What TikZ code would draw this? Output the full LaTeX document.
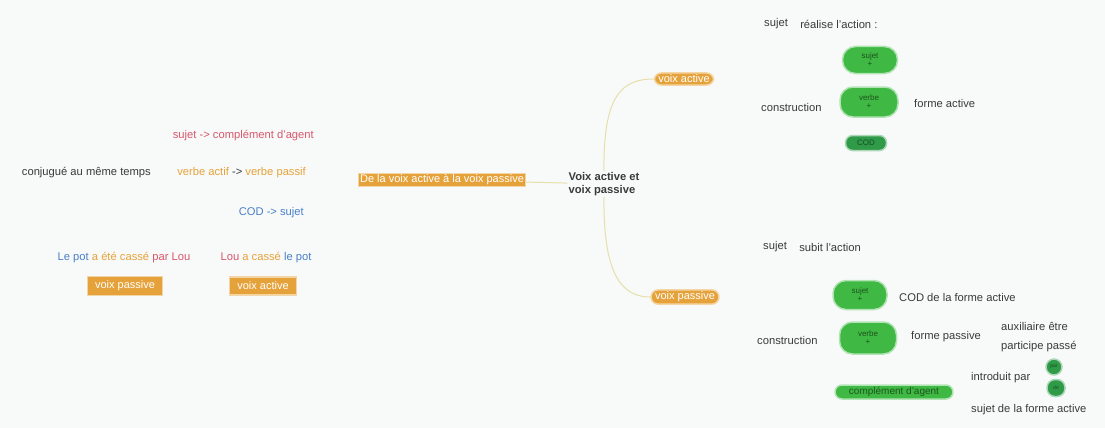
\documentclass[tikz,border=0pt]{standalone}
\usepackage{fontspec}
\setmainfont{Liberation Sans}
\usetikzlibrary{positioning}

\definecolor{vorange}{HTML}{E6A23A}
\definecolor{vgreen}{HTML}{3FB943}
\definecolor{vdgreen}{HTML}{2F9A48}
\definecolor{vred}{HTML}{D8566A}
\definecolor{vblue}{HTML}{4A7FC6}
\definecolor{vtext}{HTML}{3A3A3A}
\definecolor{vline}{HTML}{E6DFA8}
\definecolor{vback}{HTML}{F8FAFA}

\tikzset{
 txt/.style   ={text=vtext,font=\fontsize{11.2}{13}\selectfont,inner sep=1pt},
 obox/.style  ={fill=vorange,draw=vorange!45,line width=1.5pt,text=white,font=\fontsize{11}{12}\selectfont,inner sep=1.5pt},
 opill/.style ={obox,rounded corners=7pt,inner xsep=4pt,inner ysep=2pt},
 gpill/.style ={fill=vgreen,draw=vgreen!40,line width=1.5pt,text=black!55!vgreen,rounded corners=13pt,align=center,
                font=\fontsize{8}{8}\selectfont,inner sep=1pt},
 dpill/.style ={gpill,fill=vdgreen,draw=vdgreen!40,text=black!50!vdgreen},
 link/.style  ={vline,line width=1pt}
}

\begin{document}
\begin{tikzpicture}[x=1pt,y=-1pt,node distance=6pt]
 \fill[vback] (0,0) rectangle (1105,428);
 \useasboundingbox (0,0) rectangle (1105,428);

 % centre
 \node[txt,font=\bfseries\fontsize{11.2}{13}\selectfont,align=left,name=centre] at (604,184) {Voix active et\\voix passive};
 \node[obox,name=passage] at (442,180) {De la voix active à la voix passive};
 \draw[link] (passage) -- (centre);

 % left side
 \node[txt,anchor=east,text=vred,name=regle1] at (315,136) {sujet -> complément d'agent};
 \node[txt,anchor=east,name=regle2] at (307,173) {{\color{vorange}verbe actif} -> {\color{vorange}verbe passif}};
 \node[txt,anchor=east,name=temps]  at (152,173) {conjugué au même temps};
 \node[txt,anchor=east,text=vblue,name=regle3] at (305,213) {COD -> sujet};

 \node[txt,name=exP] at (124,258) {{\color{vblue}Le pot} {\color{vorange}a été cassé} {\color{vred}par Lou}};
 \node[txt,name=exA] at (266,258) {{\color{vred}Lou} {\color{vorange}a cassé} {\color{vblue}le pot}};
 \node[obox,minimum width=75pt,minimum height=19pt,name=lblP] at (125,286) {voix passive};
 \node[obox,minimum width=67pt,minimum height=18pt,name=lblA] at (263,286) {voix active};

 % branches
 \node[opill,name=vactive]  at (684,79)  {voix active};
 \node[opill,name=vpassive] at (685,297) {voix passive};
 \draw[link] (centre.north) .. controls (603,95) and (622,79) .. (vactive.west);
 \draw[link] (centre.south) .. controls (603,275) and (622,297) .. (vpassive.west);

 % voix active
 \node[txt,anchor=west,name=sujA]    at (763,24)  {sujet};
 \node[txt,right=10pt of sujA,name=actionA] {réalise l'action :};
 \node[gpill,minimum width=55pt,minimum height=27pt,name=gsujA]  at (870,60)  {sujet\\+};
 \node[gpill,minimum width=58pt,minimum height=30pt,name=gverbA] at (869,102) {verbe\\+};
 \node[dpill,minimum width=41pt,minimum height=15pt,rounded corners=7pt,name=gcodA] at (866,143) {COD};
 \node[txt,anchor=west,name=consA] at (760,107) {construction};
 \node[txt,anchor=west,name=formeA] at (913,103) {forme active};

 % voix passive
 \node[txt,anchor=west,name=sujP]    at (762,247) {sujet};
 \node[txt,right=10pt of sujP,name=actionP] {subit l'action};
 \node[gpill,minimum width=54pt,minimum height=29pt,name=gsujP]  at (860,295) {sujet\\+};
 \node[gpill,minimum width=57pt,minimum height=32pt,name=gverbP] at (868,338) {verbe\\+};
 \node[gpill,minimum width=118pt,minimum height=14pt,rounded corners=7pt,font=\fontsize{10}{10}\selectfont,name=gagent] at (894,392) {complément d'agent};
 \node[txt,anchor=west,name=consP]  at (756,340) {construction};
 \node[txt,anchor=west,name=codP]   at (898,297) {COD de la forme active};
 \node[txt,anchor=west,name=formeP] at (910,337) {forme passive};
 \node[txt,anchor=west,name=aux]    at (1000,326) {auxiliaire être};
 \node[txt,anchor=west,name=part]   at (1000,347) {participe passé};
 \node[txt,anchor=west,name=intro]  at (970,378) {introduit par};
 \node[dpill,minimum width=16pt,minimum height=16pt,rounded corners=8pt,font=\fontsize{5}{5}\selectfont,name=gpar] at (1054,367) {par};
 \node[dpill,minimum width=18pt,minimum height=17pt,rounded corners=8pt,font=\fontsize{5}{5}\selectfont,name=gde]  at (1056,388) {de};
 \node[txt,anchor=west,name=sujForme] at (970,410) {sujet de la forme active};
\end{tikzpicture}
\end{document}
